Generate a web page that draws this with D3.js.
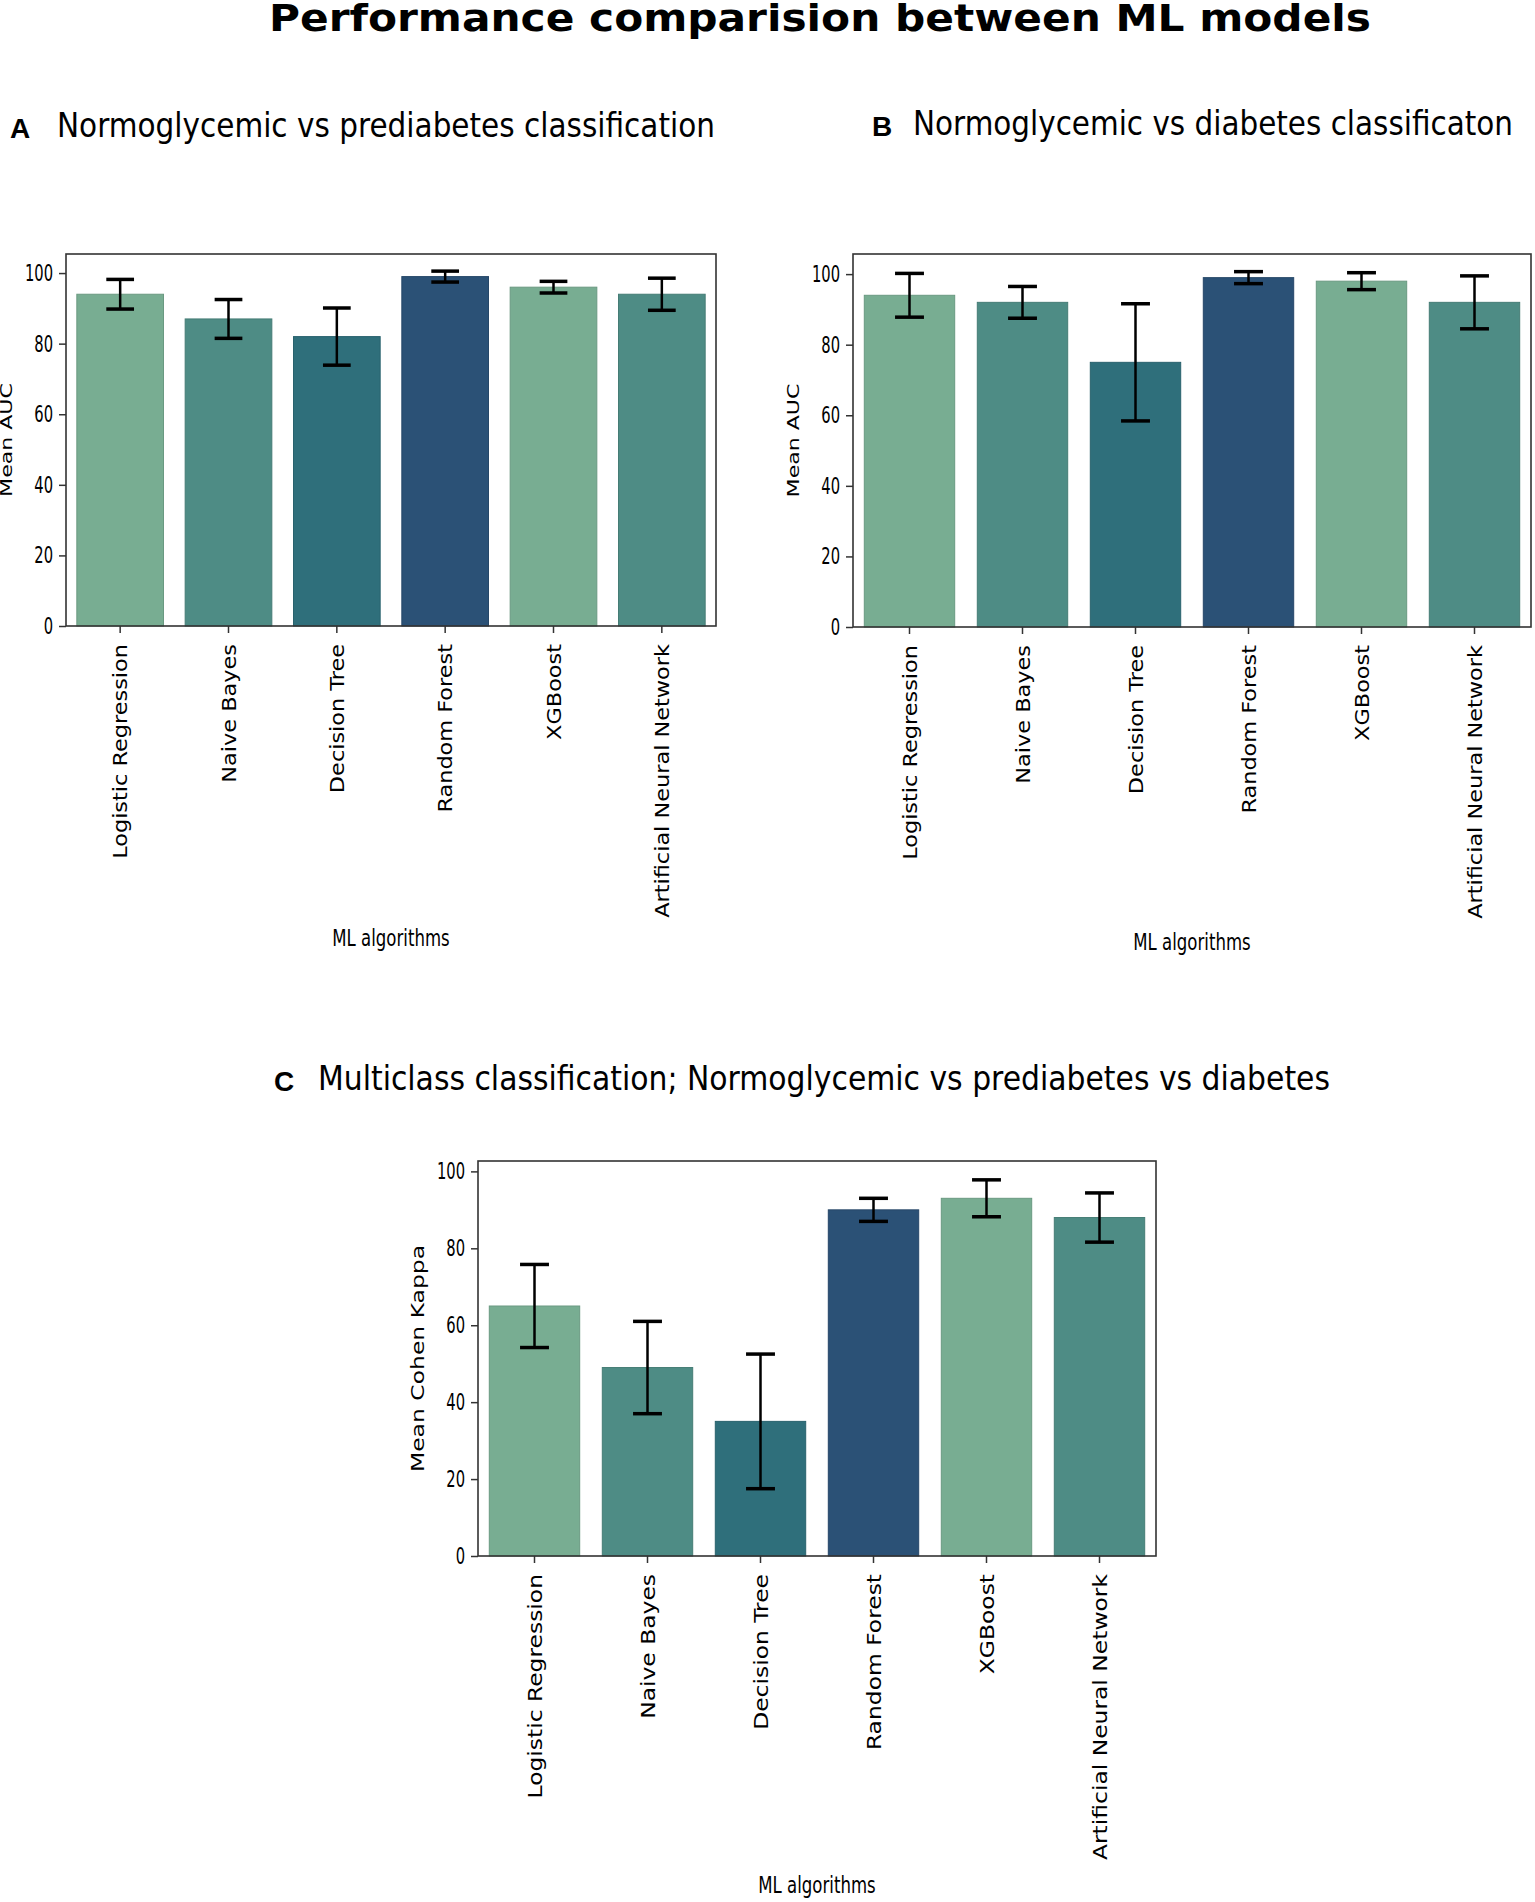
<!DOCTYPE html>
<html>
<head>
<meta charset="utf-8">
<script src="https://cdn.jsdelivr.net/npm/d3@7"></script>
<style>
  body { margin: 0; background: #fff; }
  text { font-family: "DejaVu Sans", sans-serif; fill: #000; }
</style>
</head>
<body>
<div class="canvas"></div>
<script>
// data
const models = ["Logistic Regression", "Naive Bayes", "Decision Tree", "Random Forest", "XGBoost", "Artificial Neural Network"];
const aucPre = [94, 87, 82, 99, 96, 94];
const aucPreErr = [4.2, 5.5, 8.1, 1.55, 1.65, 4.55];
const aucDia = [94, 92, 75, 99, 98, 92];
const aucDiaErr = [6.2, 4.5, 16.6, 1.7, 2.4, 7.5];
const kappa = [65, 49, 35, 90, 93, 88];
const kappaErr = [10.8, 12, 17.5, 3, 4.8, 6.4];
const yTicks = [0, 20, 40, 60, 80, 100];
const palette = ["#78ad92", "#4e8c85", "#2f6f7b", "#2b5176"];

const svg = d3
  .select(".canvas")
  .append("svg")
  .attr("width", 1535)
  .attr("height", 1902);

// stretch/condense a text to a factor of its natural width
const squeeze = (sel, f) =>
  sel.each(function () {
    const w = this.getComputedTextLength();
    d3.select(this).attr("textLength", w * f).attr("lengthAdjust", "spacingAndGlyphs");
  });

svg
  .append("text")
  .attr("x", 269)
  .attr("y", 31)
  .attr("font-size", 38)
  .attr("font-weight", "bold")
  .attr("textLength", 1102)
  .attr("lengthAdjust", "spacingAndGlyphs")
  .text("Performance comparision between ML models");

const panels = [
  {
    letter: "A", title: "Normoglycemic vs prediabetes classification",
    values: aucPre, errs: aucPreErr, yLabel: "Mean AUC", yMax: 105.4,
    x0: 66, x1: 716, y0: 254, y1: 626,
    letterPos: [10, 138], titlePos: [57, 137], titleW: 658,
    xLabelY: 946, labelStretch: 1.12, yLabelFont: 16
  },
  {
    letter: "B", title: "Normoglycemic vs diabetes classificaton",
    values: aucDia, errs: aucDiaErr, yLabel: "Mean AUC", yMax: 105.7,
    x0: 853, x1: 1531, y0: 254, y1: 627,
    letterPos: [872, 136], titlePos: [913, 135], titleW: 600,
    xLabelY: 950, labelStretch: 1.12, yLabelFont: 16
  },
  {
    letter: "C", title: "Multiclass classification; Normoglycemic vs prediabetes vs diabetes",
    values: kappa, errs: kappaErr, yLabel: "Mean Cohen Kappa", yMax: 102.7,
    x0: 478, x1: 1156, y0: 1161, y1: 1556,
    letterPos: [274, 1091], titlePos: [318, 1090], titleW: 1012,
    xLabelY: 1893, labelStretch: 1.17, yLabelFont: 17
  }
];

const drawPanel = (p) => {
  const g = svg.append("g");

  g.append("text")
    .attr("x", p.letterPos[0])
    .attr("y", p.letterPos[1])
    .attr("font-size", 28)
    .attr("font-weight", "bold")
    .style("font-family", "'Liberation Sans', Arial, sans-serif")
    .text(p.letter);

  g.append("text")
    .attr("x", p.titlePos[0])
    .attr("y", p.titlePos[1])
    .attr("font-size", 33)
    .attr("textLength", p.titleW)
    .attr("lengthAdjust", "spacingAndGlyphs")
    .text(p.title);

  const x = d3.scaleBand().domain(models).range([p.x0, p.x1]).paddingInner(0.2).paddingOuter(0.1);
  const y = d3.scaleLinear().domain([0, p.yMax]).range([p.y1, p.y0]);

  // bars
  g.selectAll("rect.bar")
    .data(p.values)
    .enter()
    .append("rect")
    .attr("class", "bar")
    .attr("x", (d, i) => x(models[i]))
    .attr("y", (d) => y(d))
    .attr("width", x.bandwidth())
    .attr("height", (d) => y(0) - y(d))
    .attr("fill", (d, i) => palette[i % 4])
    .attr("stroke", (d, i) => d3.color(palette[i % 4]).darker(0.35))
    .attr("stroke-width", 1);

  // error bars
  const capW = x.bandwidth() * 0.32;
  const err = g
    .selectAll("g.err")
    .data(p.values)
    .enter()
    .append("g")
    .attr("class", "err")
    .attr("transform", (d, i) => `translate(${x(models[i]) + x.bandwidth() / 2},0)`);

  err.append("line")
    .attr("y1", (d, i) => y(d - p.errs[i]))
    .attr("y2", (d, i) => y(d + p.errs[i]))
    .attr("stroke", "#000")
    .attr("stroke-width", 2.5);

  [-1, 1].forEach((s) => {
    err.append("line")
      .attr("x1", -capW / 2)
      .attr("x2", capW / 2)
      .attr("y1", (d, i) => y(d + s * p.errs[i]))
      .attr("y2", (d, i) => y(d + s * p.errs[i]))
      .attr("stroke", "#000")
      .attr("stroke-width", 3.5);
  });

  // frame
  g.append("rect")
    .attr("x", p.x0)
    .attr("y", p.y0)
    .attr("width", p.x1 - p.x0)
    .attr("height", p.y1 - p.y0)
    .attr("fill", "none")
    .attr("stroke", "#333")
    .attr("stroke-width", 1.6);

  // y axis
  const yAxis = g
    .append("g")
    .attr("transform", `translate(${p.x0},0)`)
    .call(d3.axisLeft(y).tickValues(yTicks).tickSize(7).tickPadding(6));
  yAxis.select(".domain").remove();
  yAxis.selectAll("line").attr("stroke", "#333").attr("stroke-width", 1.5);
  yAxis.selectAll("text")
    .attr("font-size", 23)
    .style("font-family", "'DejaVu Sans', sans-serif")
    .attr("fill", "#000")
    .call(squeeze, 0.64);

  // x axis
  const xAxis = g
    .append("g")
    .attr("transform", `translate(0,${p.y1})`)
    .call(d3.axisBottom(x).tickSize(7));
  xAxis.select(".domain").remove();
  xAxis.selectAll("line").attr("stroke", "#333").attr("stroke-width", 1.5);
  xAxis.selectAll("text")
    .attr("font-size", 20)
    .style("font-family", "'DejaVu Sans', sans-serif")
    .attr("fill", "#000")
    .attr("transform", "rotate(-90)")
    .attr("x", -18)
    .attr("y", 0)
    .attr("dy", "0.36em")
    .style("text-anchor", "end")
    .call(squeeze, p.labelStretch);

  // axis titles
  g.append("text")
    .attr("transform", `translate(${p.x0 - 54},${(p.y0 + p.y1) / 2}) rotate(-90)`)
    .attr("text-anchor", "middle")
    .attr("font-size", p.yLabelFont)
    .text(p.yLabel)
    .call(squeeze, 1.38);

  g.append("text")
    .attr("x", (p.x0 + p.x1) / 2)
    .attr("y", p.xLabelY)
    .attr("text-anchor", "middle")
    .attr("font-size", 23)
    .text("ML algorithms")
    .call(squeeze, 0.72);
};

panels.forEach(drawPanel);
</script>
</body>
</html>
